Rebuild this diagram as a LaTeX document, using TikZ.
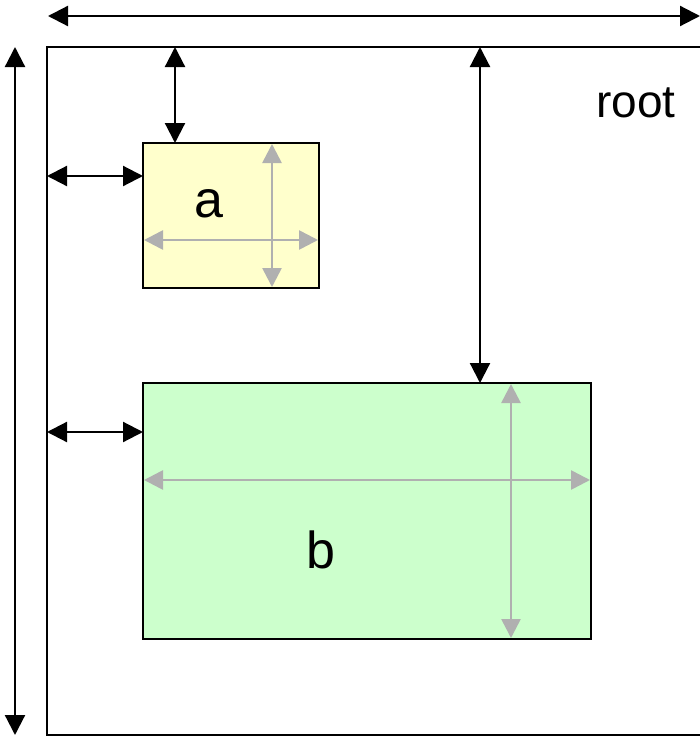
\documentclass[tikz,border=0pt]{standalone}
\usepackage{fontspec}
\setmainfont{Liberation Sans}
\usetikzlibrary{arrows.meta,calc}
\definecolor{ayellow}{HTML}{FFFFCC}
\definecolor{bgreen}{HTML}{CCFFCC}
\definecolor{dimgray}{HTML}{B0B0B0}
\tikzset{
  boxnode/.style={draw=black, line width=2.2pt, rectangle, inner sep=0pt, outer sep=0pt},
  dimarrow/.style={line width=2.2pt, {Triangle[length=20pt,width=20pt]}-{Triangle[length=20pt,width=20pt]}},
  grayarrow/.style={draw=dimgray, line width=2.6pt, {Triangle[length=19pt,width=19pt]}-{Triangle[length=19pt,width=19pt]}, shorten <=1pt, shorten >=1pt},
  lbl/.style={anchor=base, inner sep=0pt}
}
\begin{document}
\begin{tikzpicture}[x=1pt,y=-1pt]
\useasboundingbox (0,0) rectangle (700,736);
\clip (0,0) rectangle (700,736);
% root
\node[boxnode, minimum width=665pt, minimum height=688pt] (root) at (379.5,391) {};
\node[lbl] (rootlbl) at (636,117) {\fontsize{46}{55}\selectfont root};
% a
\node[boxnode, fill=ayellow, minimum width=176pt, minimum height=145pt] (a) at (231,215.5) {};
\node[lbl] (albl) at (209,217) {\fontsize{52}{62}\selectfont a};
% b
\node[boxnode, fill=bgreen, minimum width=448pt, minimum height=256pt] (b) at (367,511) {};
\node[lbl] (blbl) at (321,568) {\fontsize{52}{62}\selectfont b};
% outer dimension arrows
\coordinate (tl) at (48,16);
\coordinate (tr) at (700,16);
\coordinate (lt) at (15,47);
\coordinate (lb) at (15,735);
\draw[dimarrow] (tl) -- (tr);
\draw[dimarrow] (lt) -- (lb);
% anchor points
\coordinate (atop) at ($(a.north west)+(32,0)$);
\coordinate (aleft) at ($(a.north west)+(0,33)$);
\coordinate (btop) at ($(b.north west)+(337,0)$);
\coordinate (bleft) at ($(b.north west)+(0,49)$);
\coordinate (atopr) at (atop |- root.north);
\coordinate (aleftr) at (aleft -| root.west);
\coordinate (btopr) at (btop |- root.north);
\coordinate (bleftr) at (bleft -| root.west);
% offsets of a and b
\draw[dimarrow] (atopr) -- (atop);
\draw[dimarrow] (aleftr) -- (aleft);
\draw[dimarrow] (btopr) -- (btop);
\draw[dimarrow] (bleftr) -- (bleft);
% size arrows inside a
\coordinate (avt) at ($(a.north west)+(129,0)$);
\coordinate (avb) at ($(a.south west)+(129,0)$);
\coordinate (ahl) at ($(a.north west)+(0,97)$);
\coordinate (ahr) at ($(a.north east)+(0,97)$);
\draw[grayarrow] (avt) -- (avb);
\draw[grayarrow] (ahl) -- (ahr);
% size arrows inside b
\coordinate (bvt) at ($(b.north west)+(368,0)$);
\coordinate (bvb) at ($(b.south west)+(368,0)$);
\coordinate (bhl) at ($(b.north west)+(0,97)$);
\coordinate (bhr) at ($(b.north east)+(0,97)$);
\draw[grayarrow] (bvt) -- (bvb);
\draw[grayarrow] (bhl) -- (bhr);
\end{tikzpicture}
\end{document}
